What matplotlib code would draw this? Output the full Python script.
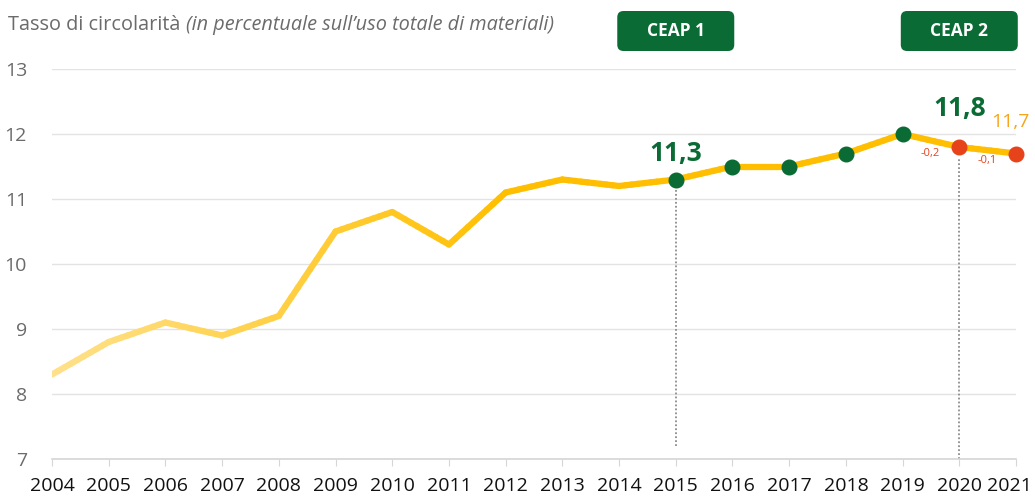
"""
Tasso di circolarità in Italia 2004-2021, con riquadri CEAP 1 / CEAP 2.
"""

import numpy as np
import matplotlib.pyplot as plt
from matplotlib.collections import LineCollection
from matplotlib.colors import to_rgb
from matplotlib.patches import FancyBboxPatch
from matplotlib.transforms import blended_transform_factory, ScaledTranslation

# ==== DATI ====
YEARS = np.arange(2004, 2022)
RATE = np.array([8.3, 8.8, 9.1, 8.9, 9.2, 10.5, 10.8, 10.3, 11.1, 11.3,
                 11.2, 11.3, 11.5, 11.5, 11.7, 12.0, 11.8, 11.7])
GREEN_YEARS = [2015, 2016, 2017, 2018, 2019]
RED_YEARS = [2020, 2021]
CEAP_YEARS = [2015, 2020]
CEAP_LABELS = ["CEAP 1", "CEAP 2"]
DELTAS = {2020: "-0,2", 2021: "-0,1"}

# ==== STILE ====
GREEN = "#0B6B34"
RED = "#E6431B"
ORANGE = "#F6A51C"
GOLD = "#FFBF00"
LIGHT = "#FFE18C"
GRID = "#E3E3E3"
GREY_TXT = "#6B6B6B"

plt.rcParams["font.family"] = ["Open Sans", "DejaVu Sans"]

fig = plt.figure(figsize=(10.35, 4.96), dpi=100)
ax = fig.add_axes([52 / 1035, 1 - 459 / 496, 964 / 1035, 390 / 496])

# linea con sfumatura (chiara -> oro) sui primi anni
pts = []
cols = []
c0, c1 = np.array(to_rgb(LIGHT)), np.array(to_rgb(GOLD))
fade_end = 2012
steps = np.linspace(0, 1, 10)
for i in range(len(YEARS) - 1):
    for t0, t1 in zip(steps[:-1], steps[1:]):
        xa = YEARS[i] + t0 * (YEARS[i + 1] - YEARS[i])
        xb = YEARS[i] + t1 * (YEARS[i + 1] - YEARS[i])
        ya = RATE[i] + t0 * (RATE[i + 1] - RATE[i])
        yb = RATE[i] + t1 * (RATE[i + 1] - RATE[i])
        pts.append([(xa, ya), (xb, yb)])
        f = min(1.0, max(0.0, ((xa + xb) / 2 - YEARS[0]) / (fade_end - YEARS[0])))
        cols.append(c0 + (c1 - c0) * f)
lc = LineCollection(pts, colors=cols, linewidths=4.5, capstyle="round",
                    joinstyle="round", zorder=3)
ax.add_collection(lc)

# punti
for yr in GREEN_YEARS:
    ax.plot(yr, RATE[YEARS == yr][0], "o", color=GREEN, markersize=10.5,
            zorder=4, clip_on=False)
for yr in RED_YEARS:
    ax.plot(yr, RATE[YEARS == yr][0], "o", color=RED, markersize=10.5,
            zorder=4, clip_on=False)

# linee tratteggiate verticali
ax.plot([2015, 2015], [7.2, 11.2], linestyle=(0, (1, 1.2)), color="#8C8C8C",
        linewidth=1.3, zorder=2)
ax.plot([2020, 2020], [7.0, 11.62], linestyle=(0, (1, 1.2)), color="#8C8C8C",
        linewidth=1.3, zorder=2)

# etichette valori
v15 = RATE[YEARS == 2015][0]
v20 = RATE[YEARS == 2020][0]
v21 = RATE[YEARS == 2021][0]
ax.annotate("11,3", (2015, v15), xytext=(0, 19), textcoords="offset points",
            ha="center", va="center", color=GREEN, fontsize=19, fontweight="bold")
ax.annotate("11,8", (2020, v20), xytext=(0, 28), textcoords="offset points",
            ha="center", va="center", color=GREEN, fontsize=19, fontweight="bold")
ax.annotate("11,7", (2021, v21), xytext=(-4, 23), textcoords="offset points",
            ha="center", va="center", color=ORANGE, fontsize=14)
for yr, txt in DELTAS.items():
    ax.annotate(txt, (yr, RATE[YEARS == yr][0]), xytext=(-21, -5),
                textcoords="offset points", ha="center", va="center",
                color=RED, fontsize=8)

# assi
ax.set_xlim(2004, 2021)
ax.set_ylim(7, 13)
ax.set_xticks(YEARS)
ax.set_yticks(range(7, 14))
ax.grid(axis="y", color=GRID, linewidth=1)
ax.set_axisbelow(True)
for s in ["top", "right", "left"]:
    ax.spines[s].set_visible(False)
ax.spines["bottom"].set_color("#D6D6D6")
ax.spines["bottom"].set_linewidth(1.2)
ax.tick_params(axis="x", length=5, color="#D6D6D6", labelsize=14, pad=8,
               labelcolor="#111111")
ax.tick_params(axis="y", length=0, labelsize=14, pad=18, labelcolor=GREY_TXT)

# ultima etichetta leggermente a sinistra per non uscire dal bordo
last = ax.get_xticklabels()[-1]
last.set_transform(last.get_transform() + ScaledTranslation(-5 / 72, 0, fig.dpi_scale_trans))

# titolo
t1 = fig.text(8 / 1035, 1 - 25 / 496, "Tasso di circolarità ", fontsize=14.3,
              color=GREY_TXT, va="center", ha="left")
ax.annotate("(in percentuale sull’uso totale di materiali)", xy=(1, 0),
            xycoords=t1, va="bottom", ha="left", fontsize=14.3,
            color=GREY_TXT, style="italic")

# riquadri CEAP
tr = blended_transform_factory(ax.transData, fig.transFigure)
bw = 117 / (964 / 17)
bh = 40 / 496
for yr, lab in zip(CEAP_YEARS, CEAP_LABELS):
    box = FancyBboxPatch((yr - bw / 2, 1 - 51 / 496), bw, bh,
                         boxstyle="round,pad=0,rounding_size=0.11",
                         mutation_aspect=(1 / 496) / (17 / 964),
                         transform=tr, facecolor=GREEN, edgecolor="none",
                         clip_on=False, zorder=5)
    ax.add_patch(box)
    ax.text(yr, 1 - 31 / 496, lab, transform=tr, ha="center", va="center",
            color="white", fontsize=12.5, fontweight="bold", zorder=6)

fig.savefig("out.png", dpi=100)
